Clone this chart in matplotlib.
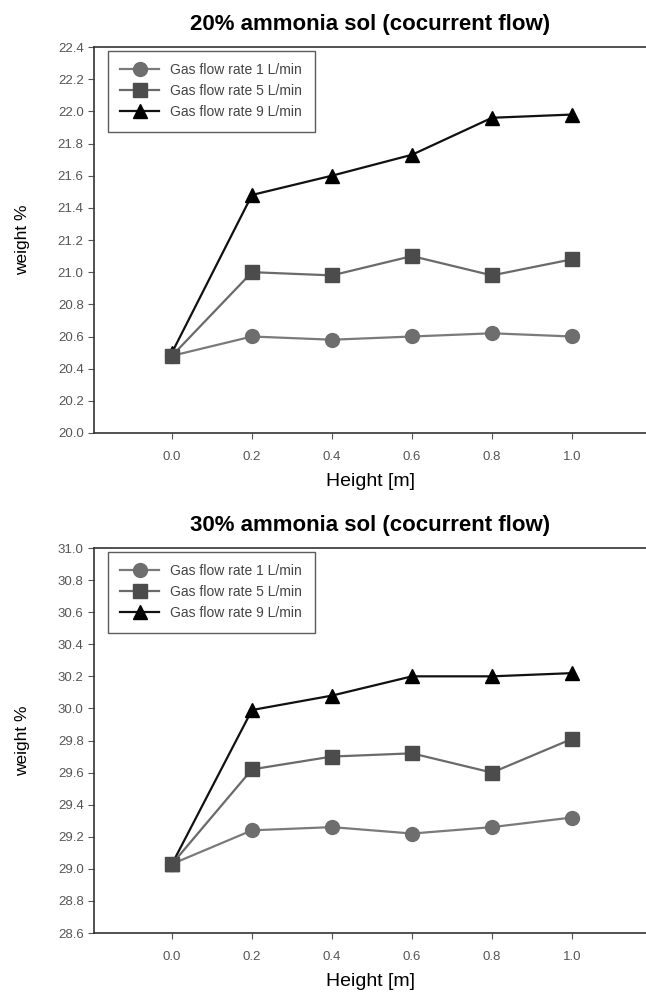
import matplotlib
matplotlib.use('Agg')
import matplotlib.pyplot as plt
import numpy as np
plt.rc('font', family='Liberation Sans')

height = [0.0, 0.2, 0.4, 0.6, 0.8, 1.0]
labels = ['Gas flow rate 1 L/min', 'Gas flow rate 5 L/min', 'Gas flow rate 9 L/min']

# 20% ammonia solution
top_1 = [20.48, 20.60, 20.58, 20.60, 20.62, 20.60]
top_5 = [20.48, 21.00, 20.98, 21.10, 20.98, 21.08]
top_9 = [20.50, 21.48, 21.60, 21.73, 21.96, 21.98]

# 30% ammonia solution
bot_1 = [29.03, 29.24, 29.26, 29.22, 29.26, 29.32]
bot_5 = [29.03, 29.62, 29.70, 29.72, 29.60, 29.81]
bot_9 = [29.03, 29.99, 30.08, 30.20, 30.20, 30.22]

styles = [('o', '#6e6e6e', '#7a7a7a', 2.2), ('s', '#4c4c4c', '#6a6a6a', 2.4), ('^', '#000000', '#111111', 2.3)]

fig = plt.figure(figsize=(6.46, 9.97), dpi=100)
ax1 = fig.add_axes([94/646, 1-433/997, 1-94/646, 386/997])
ax2 = fig.add_axes([94/646, 1-933/997, 1-94/646, 385/997])

def panel(ax, series, title, ylim, yticks):
    for (m, c, lc, z), s, lab in zip(styles, series, labels):
        ax.plot(height, s, color=lc, lw=1.6, marker=m, markersize=10,
                markerfacecolor=c, markeredgecolor=c, label=lab, zorder=z)
    ax.set_xlim(-0.195, 1.185)
    ax.set_ylim(*ylim)
    ax.set_xticks(height)
    ax.set_xticklabels(['%.1f' % h for h in height])
    ax.set_yticks(yticks)
    ax.set_yticklabels(['%.1f' % t for t in yticks])
    ax.spines['right'].set_visible(False)
    for sp in ['left', 'bottom', 'top']:
        ax.spines[sp].set_linewidth(1.2)
        ax.spines[sp].set_color('#333333')
    ax.tick_params(direction='out', length=4, labelsize=9.5, colors='#555555',
                   labelcolor='#555555', top=False)
    ax.tick_params(axis='x', pad=9)
    ax.set_xlabel('Height [m]', fontsize=14, labelpad=7)
    ax.set_ylabel('weight %', fontsize=12.5, labelpad=20)
    ax.set_title(title, fontsize=16, fontweight='bold', pad=12)
    leg = ax.legend(loc='upper left', fontsize=10, frameon=True, fancybox=False,
                    edgecolor='#333333', borderpad=0.9, handlelength=2.8, labelspacing=0.5,
                    bbox_to_anchor=(0.025, 0.99), borderaxespad=0)
    leg.get_frame().set_linewidth(1.0)
    for t in leg.get_texts():
        t.set_color('#444444')

panel(ax1, [top_1, top_5, top_9], '20% ammonia sol (cocurrent flow)',
      (20.0, 22.4), np.arange(20.0, 22.41, 0.2))
panel(ax2, [bot_1, bot_5, bot_9], '30% ammonia sol (cocurrent flow)',
      (28.6, 31.0), np.arange(28.6, 31.01, 0.2))

plt.savefig('out.png', dpi=100)
